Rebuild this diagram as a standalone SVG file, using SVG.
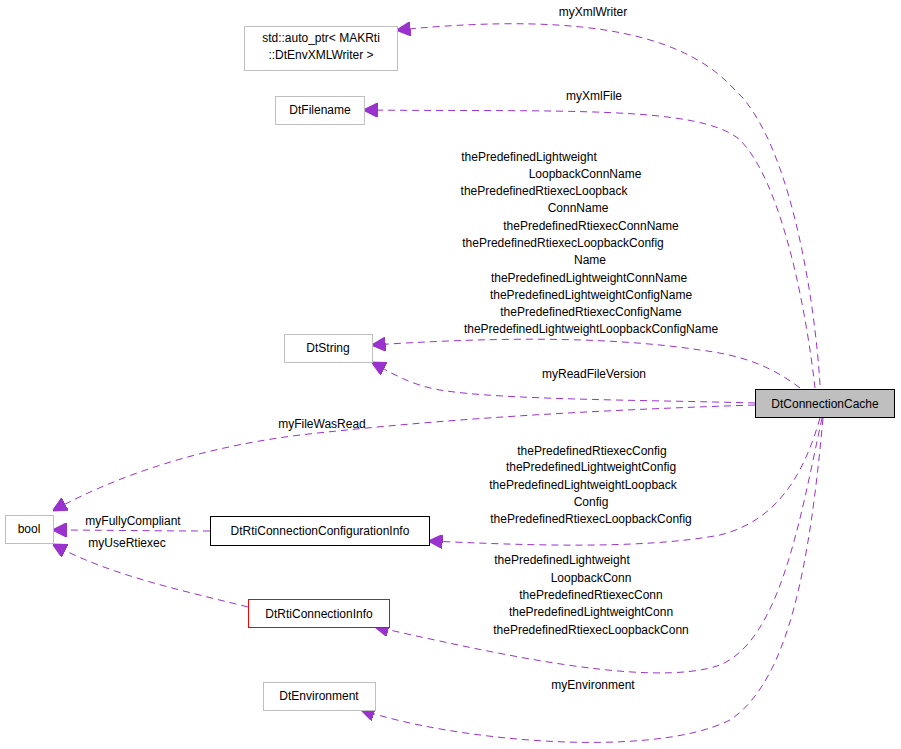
<svg xmlns="http://www.w3.org/2000/svg" width="901" height="749" viewBox="0 0 901 749">
<style>
text{font-family:"Liberation Sans",Arial,sans-serif;font-size:12px;fill:#000;text-anchor:middle}
.n{fill:#fff;stroke:#bfbfbf;stroke-width:1}
.b{fill:#fff;stroke:#000;stroke-width:1}
.e{fill:none;stroke:#9a32cd;stroke-width:1;stroke-dasharray:7,5;marker-end:url(#a)}
</style>
<defs><marker id="a" viewBox="0 0 10 10" refX="9" refY="5" markerWidth="14" markerHeight="14" markerUnits="userSpaceOnUse" orient="auto"><path d="M0,0L10,5L0,10z" fill="#9a32cd" stroke="#9a32cd"/></marker></defs>
<rect width="901" height="749" fill="#fff"/>
<g id="edges">
<path class="e" d="M820,385 C815,300 790,140 735,90 C690,40 600,10 398,30"/>
<path class="e" d="M815,388 C805,300 780,180 740,140 C700,105 560,112 365,110"/>
<path class="e" d="M800,388 C770,365 740,355 700,350 C600,335 480,338 373,345"/>
<path class="e" d="M755,403 C650,400 500,400 440,390 C410,385 390,372 373,363"/>
<path class="e" d="M755,405 C600,410 450,418 300,435 C180,450 100,485 54,510"/>
<path class="e" d="M820,418 C805,470 780,520 720,535 C640,550 520,545 430,541"/>
<path class="e" d="M822,418 C800,520 780,640 720,665 C650,690 480,650 376,627"/>
<path class="e" d="M823,418 C810,560 790,680 730,720 C650,760 450,740 362,710"/>
<path class="e" d="M210,531 C150,531 100,530 54,530"/>
<path class="e" d="M248,607 C180,590 110,575 54,545"/>
</g>
<g id="labels">
<text x="593" y="16">myXmlWriter</text>
<text x="594" y="100">myXmlFile</text>
<text x="529" y="161">thePredefinedLightweight</text>
<text x="585" y="178">LoopbackConnName</text>
<text x="544" y="195">thePredefinedRtiexecLoopback</text>
<text x="578" y="212">ConnName</text>
<text x="591" y="230">thePredefinedRtiexecConnName</text>
<text x="563" y="247">thePredefinedRtiexecLoopbackConfig</text>
<text x="590" y="264">Name</text>
<text x="589" y="282">thePredefinedLightweightConnName</text>
<text x="591" y="299">thePredefinedLightweightConfigName</text>
<text x="591" y="316">thePredefinedRtiexecConfigName</text>
<text x="591" y="333">thePredefinedLightweightLoopbackConfigName</text>
<text x="594" y="378">myReadFileVersion</text>
<text x="322" y="428">myFileWasRead</text>
<text x="592" y="455">thePredefinedRtiexecConfig</text>
<text x="591" y="471">thePredefinedLightweightConfig</text>
<text x="583" y="489">thePredefinedLightweightLoopback</text>
<text x="591" y="506">Config</text>
<text x="591" y="523">thePredefinedRtiexecLoopbackConfig</text>
<text x="562" y="564">thePredefinedLightweight</text>
<text x="591" y="582">LoopbackConn</text>
<text x="591" y="599">thePredefinedRtiexecConn</text>
<text x="591" y="616">thePredefinedLightweightConn</text>
<text x="591" y="634">thePredefinedRtiexecLoopbackConn</text>
<text x="593" y="689">myEnvironment</text>
<text x="133" y="525">myFullyCompliant</text>
<text x="127" y="547">myUseRtiexec</text>
</g>
<g id="n1"><rect class="n" x="244.5" y="26.5" width="153" height="44"/><text x="321" y="42">std::auto_ptr&lt; MAKRti</text><text x="321" y="59">::DtEnvXMLWriter &gt;</text></g>
<g id="n2"><rect class="n" x="275.5" y="96.5" width="89" height="28"/><text x="320" y="114">DtFilename</text></g>
<g id="n3"><rect class="n" x="284.5" y="334.5" width="88" height="28"/><text x="328" y="352">DtString</text></g>
<g id="n4"><rect x="755.5" y="389.5" width="139" height="28" fill="#bfbfbf" stroke="#000"/><text x="825" y="408">DtConnectionCache</text></g>
<g id="n5"><rect class="n" x="5.5" y="515.5" width="48" height="28"/><text x="29" y="533">bool</text></g>
<g id="n6"><rect class="b" x="210.5" y="516.5" width="219" height="29"/><text x="320" y="535">DtRtiConnectionConfigurationInfo</text></g>
<g id="n7"><rect x="248.5" y="599.5" width="141" height="28" fill="#fff" stroke="#f00"/><text x="319" y="618">DtRtiConnectionInfo</text></g>
<g id="n8"><rect class="n" x="263.5" y="682.5" width="112" height="28"/><text x="319" y="700">DtEnvironment</text></g>
</svg>
